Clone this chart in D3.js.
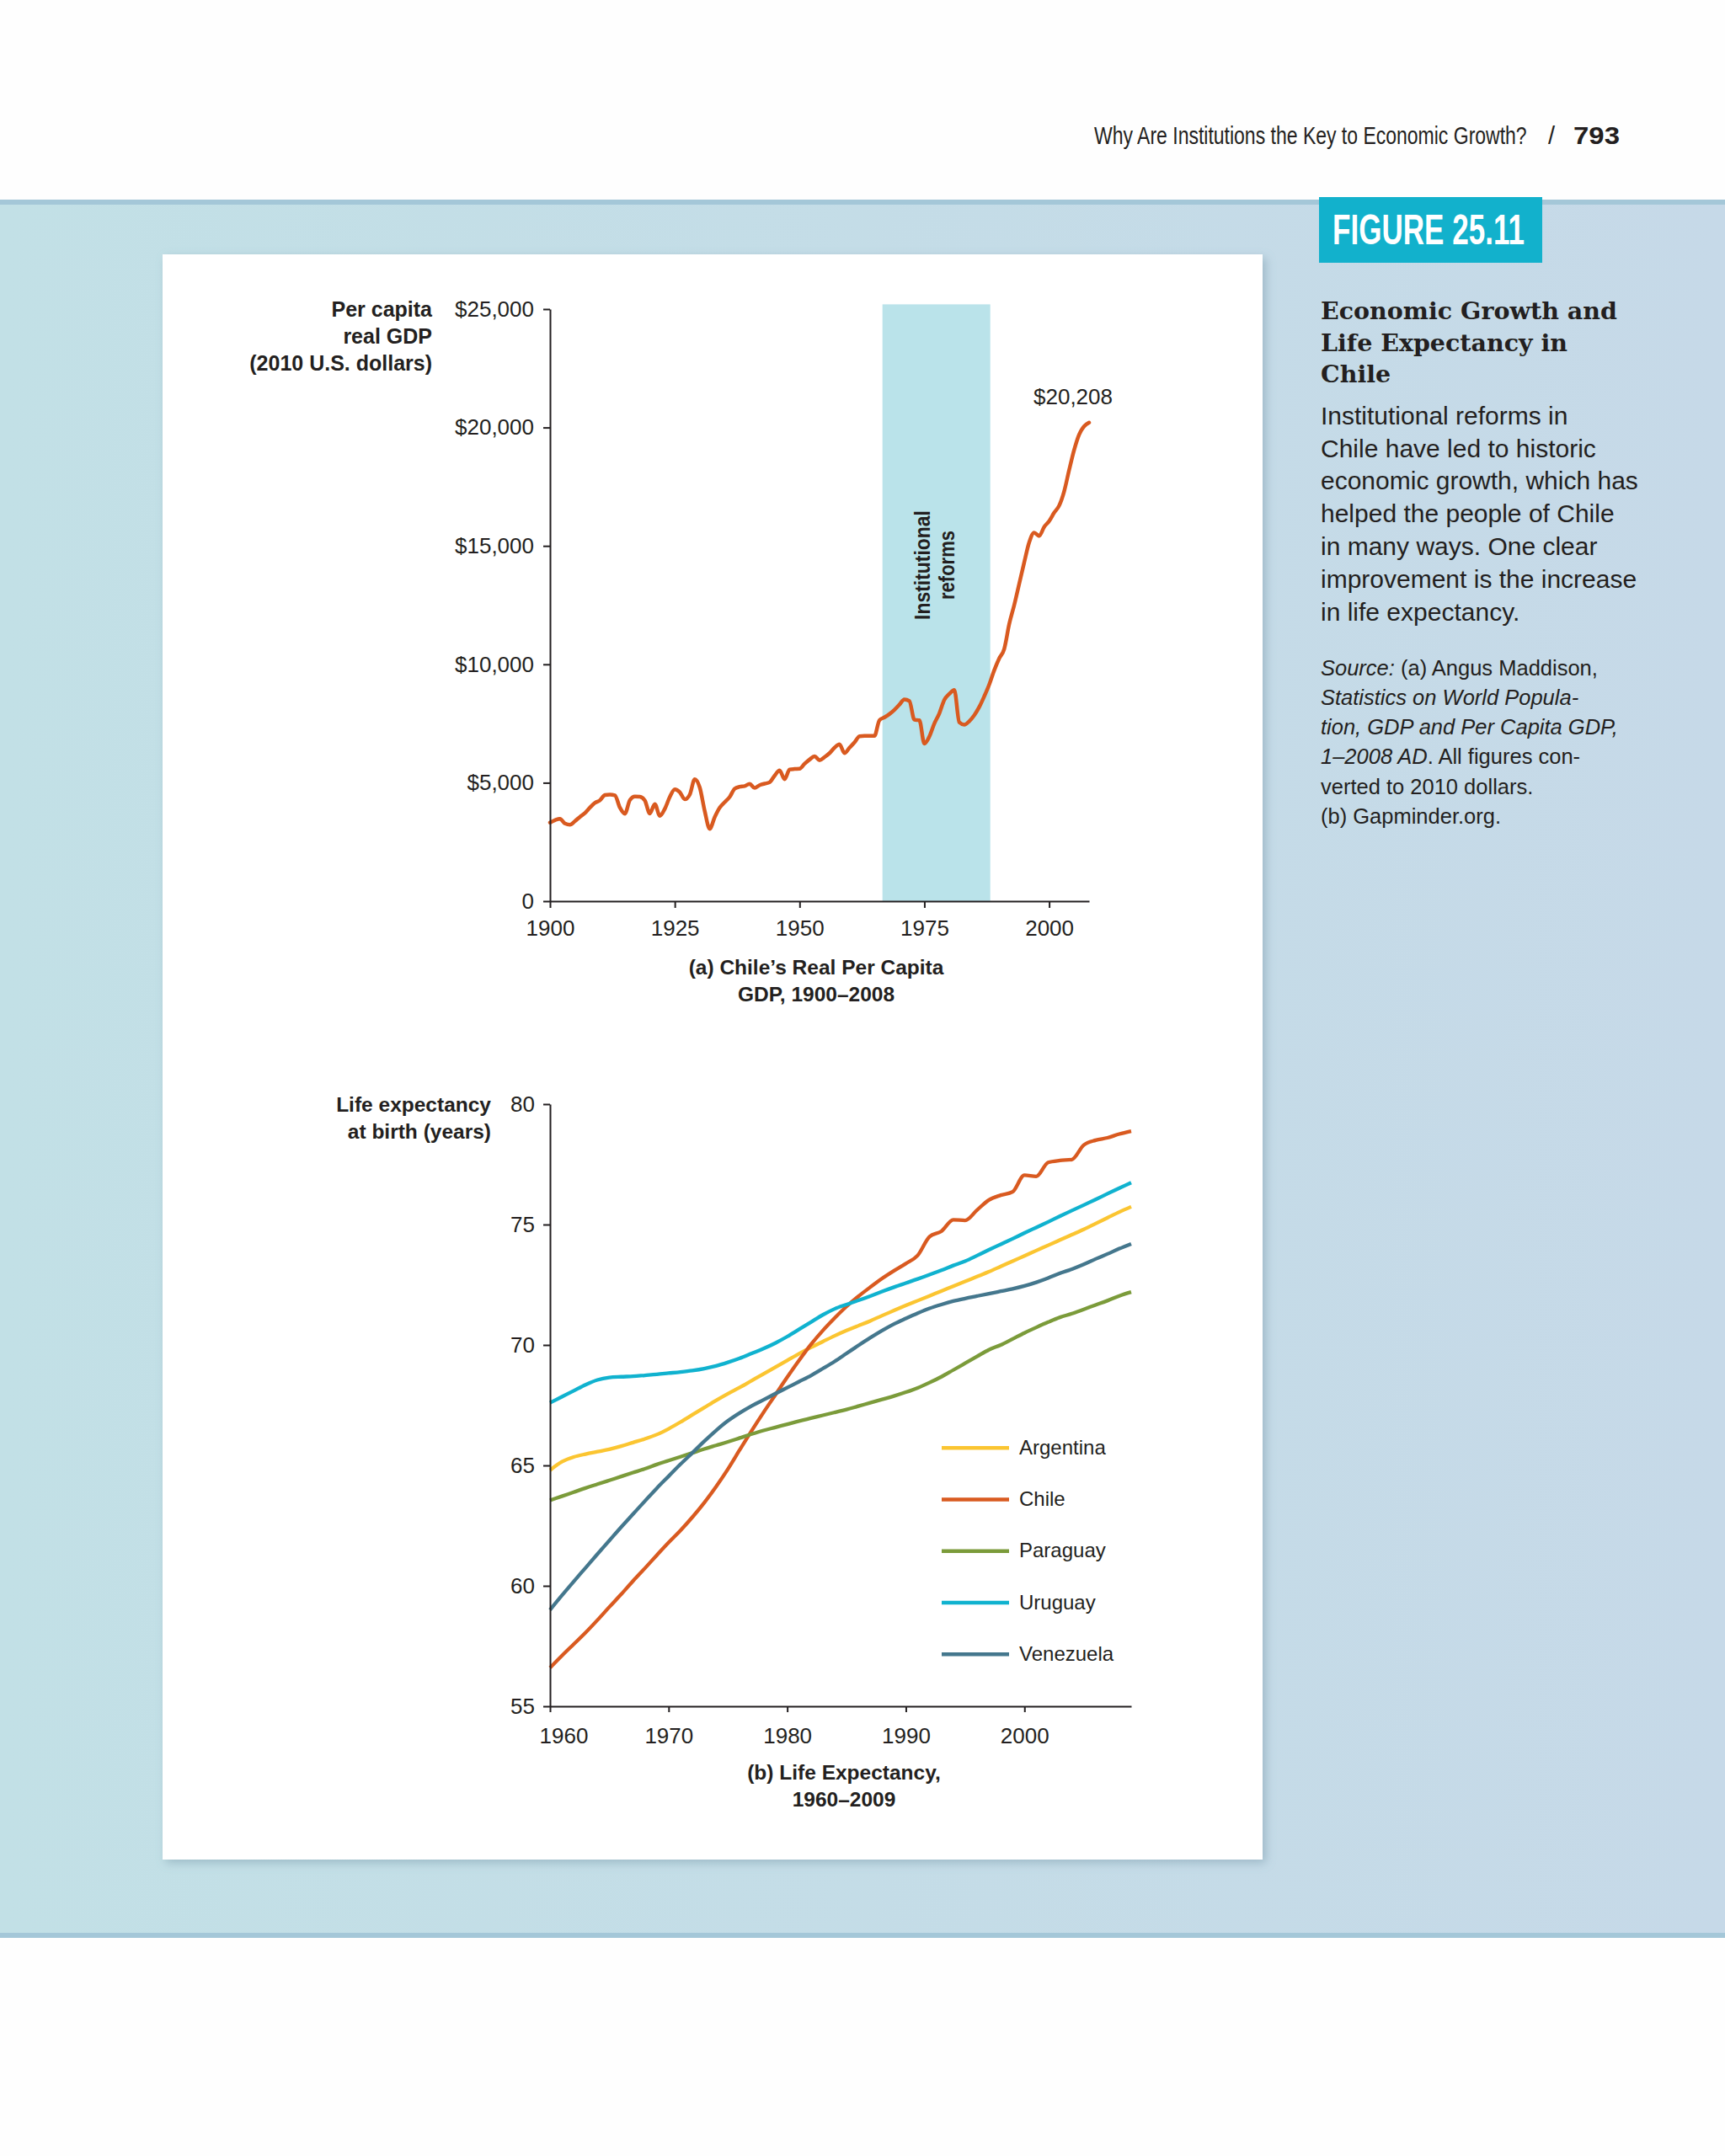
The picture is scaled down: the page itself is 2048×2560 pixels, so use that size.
<!DOCTYPE html>
<html>
<head>
<meta charset="utf-8">
<script src="https://cdn.jsdelivr.net/npm/d3@7"></script>
<style>
    body { margin: 0; background: #ffffff; }
    svg { display: block; }
</style>
</head>
<body>
<svg id="page"></svg>
<script>
const W = 2048, H = 2560;

//(a) Chile real GDP per capita, 2010 dollars, one value per year from 1900
const gdpFirstYear = 1900;
const gdpValues = [
    3320, 3420, 3480, 3280, 3230, 3380, 3560, 3720, 3950, 4150,
    4260, 4480, 4500, 4470, 3950, 3690, 4270, 4420, 4410, 4250,
    3700, 4100, 3600, 3900, 4400, 4720, 4600, 4300, 4500, 5150,
    4800, 3800, 3050, 3550, 3950, 4180, 4400, 4750, 4830, 4860,
    4950, 4780, 4900, 4960, 5020, 5300, 5520, 5150, 5560, 5580,
    5590, 5800, 5980, 6120, 5950, 6080, 6250, 6480, 6620, 6250,
    6480, 6700, 6960, 6980, 6980, 6980, 7640, 7760, 7900, 8080,
    8300, 8520, 8450, 7660, 7640, 6650, 6950, 7500, 7930, 8500,
    8750, 8920, 7550, 7450, 7600, 7850, 8200, 8650, 9150, 9750,
    10250, 10650, 11700, 12500, 13400, 14300, 15150, 15560, 15420, 15800,
    16050, 16400, 16700, 17300, 18200, 19050, 19700, 20050, 20208
];
const gdpTicks = [0, 5000, 10000, 15000, 20000, 25000];
const gdpYearTicks = [1900, 1925, 1950, 1975, 2000];
const reformYears = [1966.6, 1988.2];
const reformTop = 25200;

//(b) life expectancy at birth
const leYears = [
    1960, 1961, 1962, 1963, 1964, 1965, 1966, 1967, 1968, 1969,
    1970, 1971, 1972, 1973, 1974, 1975, 1976, 1977, 1978, 1979,
    1980, 1981, 1982, 1983, 1984, 1985, 1986, 1987, 1988, 1989,
    1990, 1991, 1992, 1993, 1994, 1995, 1996, 1997, 1998, 1999,
    2000, 2001, 2002, 2003, 2004, 2005, 2006, 2007, 2008, 2009
];
const argentina = [
    64.8, 65.15, 65.35, 65.47, 65.57, 65.67, 65.8, 65.95, 66.1, 66.28,
    66.52, 66.8, 67.1, 67.4, 67.7, 67.98, 68.24, 68.52, 68.8, 69.08,
    69.36, 69.64, 69.9, 70.14, 70.38, 70.6, 70.8, 71.0, 71.22, 71.43,
    71.64, 71.84, 72.04, 72.24, 72.44, 72.64, 72.84, 73.04, 73.26, 73.48,
    73.7, 73.92, 74.14, 74.36, 74.58, 74.8, 75.04, 75.28, 75.52, 75.74
];
const chile = [
    56.6, 57.1, 57.58, 58.06, 58.58, 59.12, 59.65, 60.2, 60.73, 61.27,
    61.8, 62.3, 62.85, 63.45, 64.12, 64.85, 65.65, 66.44, 67.2, 67.93,
    68.66, 69.36, 70.02, 70.6, 71.12, 71.6, 72.02, 72.4, 72.76, 73.08,
    73.38, 73.72, 74.5, 74.72, 75.2, 75.17, 75.6, 76.02, 76.22, 76.36,
    77.05, 77.0, 77.58, 77.66, 77.7, 78.3, 78.5, 78.6, 78.76, 78.88
];
const paraguay = [
    63.55, 63.72, 63.89, 64.06, 64.22, 64.38, 64.54, 64.7, 64.86, 65.04,
    65.2, 65.36, 65.52, 65.68, 65.83, 65.98, 66.14, 66.3, 66.45, 66.58,
    66.71, 66.84, 66.96, 67.08, 67.2, 67.32, 67.46, 67.6, 67.74, 67.88,
    68.04, 68.22, 68.44, 68.68, 68.96, 69.24, 69.52, 69.8, 70.0, 70.25,
    70.5, 70.73, 70.95, 71.15, 71.3, 71.48, 71.66, 71.84, 72.04, 72.2
];
const uruguay = [
    67.6, 67.85, 68.1, 68.35, 68.55, 68.65, 68.68, 68.7, 68.74, 68.78,
    68.83, 68.88, 68.94, 69.02, 69.13, 69.28, 69.45, 69.65, 69.85, 70.08,
    70.35, 70.65, 70.95, 71.25, 71.5, 71.68, 71.85, 72.03, 72.22, 72.4,
    72.57, 72.74, 72.92, 73.1, 73.3, 73.48, 73.71, 73.95, 74.18, 74.41,
    74.65, 74.88, 75.11, 75.35, 75.58, 75.81, 76.04, 76.28, 76.51, 76.74
];
const venezuela = [
    59.0, 59.6, 60.18, 60.75, 61.32, 61.88, 62.44, 62.98, 63.52, 64.05,
    64.55, 65.05, 65.52, 66.0, 66.45, 66.85, 67.18, 67.47, 67.72, 67.98,
    68.23, 68.48, 68.73, 69.02, 69.32, 69.65, 69.98, 70.3, 70.6, 70.87,
    71.1, 71.32, 71.52, 71.68, 71.82, 71.93, 72.03, 72.13, 72.23, 72.33,
    72.45, 72.6, 72.78, 72.98, 73.15, 73.35, 73.57, 73.78, 74.0, 74.2
];
const countries = ["Argentina", "Chile", "Paraguay", "Uruguay", "Venezuela"];
const countryValues = [argentina, chile, paraguay, uruguay, venezuela];
const countryColors = ["#fbc531", "#d95a20", "#7b9b3a", "#10b2cf", "#44778d"];
const leTicks = [55, 60, 65, 70, 75, 80];
const leYearTicks = [1960, 1970, 1980, 1990, 2000];

//Side text
const bodyLines = [
    "Institutional reforms in",
    "Chile have led to historic",
    "economic growth, which has",
    "helped the people of Chile",
    "in many ways. One clear",
    "improvement is the increase",
    "in life expectancy."
];
const titleLines = ["Economic Growth and", "Life Expectancy in", "Chile"];
const sourceLines = [
    [["Source:", true], [" (a) Angus Maddison,", false]],
    [["Statistics on World Popula-", true]],
    [["tion, GDP and Per Capita GDP,", true]],
    [["1\u20132008 AD", true], [". All figures con-", false]],
    [["verted to 2010 dollars.", false]],
    [["(b) Gapminder.org.", false]]
];

const sans = "'Liberation Sans', Arial, sans-serif";
const narrow = "'Liberation Sans Narrow', 'Liberation Sans', Arial, sans-serif";
const ink = "#231f20";

const svg = d3.select("#page").attr("width", W).attr("height", H);

//Squeeze a text horizontally so that it spans the given width
function fitText(parent, base, width, str) {
    const t = parent.append("text").text(str);
    const natural = t.node().getComputedTextLength();
    t.attr("transform", base + " scale(" + (width / natural) + ",1)");
    return t;
}

const defs = svg.append("defs");
const grad = defs.append("linearGradient").attr("id", "band");
grad.append("stop").attr("offset", "0%").attr("stop-color", "#c2e0e6");
grad.append("stop").attr("offset", "100%").attr("stop-color", "#c6d9e8");

const shadow = defs.append("filter").attr("id", "shadow")
    .attr("x", "-5%").attr("y", "-5%").attr("width", "115%").attr("height", "115%");
shadow.append("feDropShadow")
    .attr("dx", 4).attr("dy", 4).attr("stdDeviation", 6)
    .attr("flood-color", "#6f8fa0").attr("flood-opacity", 0.45);

//Page background
svg.append("rect").attr("width", W).attr("height", H).attr("fill", "#fefefe");
svg.append("rect").attr("x", 0).attr("y", 237).attr("width", W).attr("height", 2064)
    .attr("fill", "url(#band)");
svg.append("rect").attr("x", 0).attr("y", 237).attr("width", W).attr("height", 6)
    .attr("fill", "#a4c7d8");
svg.append("rect").attr("x", 0).attr("y", 2295).attr("width", W).attr("height", 6)
    .attr("fill", "#a4c7d8");

//Running head
const head = svg.append("g").attr("fill", ink).attr("font-size", 29);
fitText(head.append("g").attr("font-family", narrow), "translate(1299,171)", 514,
    "Why Are Institutions the Key to Economic Growth?");
head.append("text").attr("x", 1838).attr("y", 171)
    .attr("font-family", narrow).text("/");
fitText(head.append("g").attr("font-family", sans).attr("font-weight", "bold"),
    "translate(1868,171)", 55, "793");

//White panel
svg.append("rect").attr("x", 193).attr("y", 302).attr("width", 1306).attr("height", 1906)
    .attr("fill", "#ffffff").attr("filter", "url(#shadow)");

//Figure label and side text
svg.append("rect").attr("x", 1566).attr("y", 234).attr("width", 265).attr("height", 78)
    .attr("fill", "#12b1cc");
fitText(svg.append("g").attr("font-family", narrow).attr("font-size", 50)
        .attr("font-weight", "bold").attr("fill", "#ffffff"),
    "translate(1582,290)", 228, "FIGURE 25.11");

svg.append("g").selectAll("text").data(titleLines).enter().append("text")
    .attr("x", 1568)
    .attr("y", function (d, i) { return 379 + i * 37.5; })
    .attr("font-family", "'DejaVu Serif', serif").attr("font-size", 28.5)
    .attr("font-weight", "bold").attr("fill", ink)
    .text(function (d) { return d; });

svg.append("g").selectAll("text").data(bodyLines).enter().append("text")
    .attr("x", 1568)
    .attr("y", function (d, i) { return 503.6 + i * 38.9; })
    .attr("font-family", sans).attr("font-size", 30).attr("fill", ink)
    .text(function (d) { return d; });

const src = svg.append("g").selectAll("text").data(sourceLines).enter().append("text")
    .attr("x", 1568)
    .attr("y", function (d, i) { return 801.5 + i * 35.3; })
    .attr("font-family", sans).attr("font-size", 25.5).attr("fill", ink);
src.selectAll("tspan").data(function (d) { return d; }).enter().append("tspan")
    .attr("font-style", function (d) { return d[1] ? "italic" : "normal"; })
    .text(function (d) { return d[0]; });

//Axis styling helper
function styleAxis(g, size) {
    g.select(".domain").attr("stroke", ink).attr("stroke-width", 2);
    g.selectAll(".tick line").attr("stroke", ink).attr("stroke-width", 2);
    g.selectAll(".tick text").attr("fill", ink).attr("font-family", sans)
        .attr("font-size", size);
    g.attr("font-family", null).attr("font-size", null);
}

// ---------- (a) GDP chart ----------
const xGdp = d3.scaleLinear().domain([1900, 2008]).range([653, 1293]);
const yGdp = d3.scaleLinear().domain([0, 25000]).range([1070, 367]);

const gdpData = gdpValues.map(function (v, i) {
    return { year: gdpFirstYear + i, value: v };
});

svg.append("rect")
    .attr("x", xGdp(reformYears[0]))
    .attr("y", yGdp(reformTop))
    .attr("width", xGdp(reformYears[1]) - xGdp(reformYears[0]))
    .attr("height", yGdp(0) - yGdp(reformTop))
    .attr("fill", "#bae3ea");

const reformMid = xGdp((reformYears[0] + reformYears[1]) / 2);
const reformText = svg.append("g")
    .attr("font-family", narrow).attr("font-weight", "bold").attr("font-size", 26)
    .attr("fill", ink).attr("text-anchor", "middle");
fitText(reformText, "translate(" + (reformMid - 8) + ",671) rotate(-90)", 130, "Institutional");
fitText(reformText, "translate(" + (reformMid + 21) + ",671) rotate(-90)", 82, "reforms");

const gdpLine = d3.line()
    .x(function (d) { return xGdp(d.year); })
    .y(function (d) { return yGdp(d.value); })
    .curve(d3.curveMonotoneX);

svg.append("path").datum(gdpData)
    .attr("d", gdpLine)
    .attr("fill", "none").attr("stroke", "#d95a20").attr("stroke-width", 4.5)
    .attr("stroke-linejoin", "round").attr("stroke-linecap", "round");

const gdpFmt = d3.format("$,");
svg.append("g").attr("transform", "translate(653,0)")
    .call(d3.axisLeft(yGdp).tickValues(gdpTicks).tickSize(8).tickSizeOuter(0).tickPadding(11)
        .tickFormat(function (d) { return d === 0 ? "0" : gdpFmt(d); }))
    .call(styleAxis, 26);

svg.append("g").attr("transform", "translate(0,1070)")
    .call(d3.axisBottom(xGdp).tickValues(gdpYearTicks).tickSize(8).tickSizeOuter(0)
        .tickPadding(15).tickFormat(d3.format("d")))
    .call(styleAxis, 26);

const lastGdp = gdpData[gdpData.length - 1];
svg.append("text")
    .attr("x", xGdp(lastGdp.year) - 66).attr("y", yGdp(lastGdp.value) - 22)
    .attr("font-family", sans).attr("font-size", 26).attr("fill", ink)
    .text(gdpFmt(lastGdp.value));

svg.append("g").attr("font-family", sans).attr("font-size", 25).attr("font-weight", "bold")
    .attr("fill", ink).attr("text-anchor", "end")
    .selectAll("text").data(["Per capita", "real GDP", "(2010 U.S. dollars)"]).enter()
    .append("text")
    .attr("x", 513).attr("y", function (d, i) { return 376 + i * 32; })
    .text(function (d) { return d; });

svg.append("g").attr("font-family", sans).attr("font-size", 24.5).attr("font-weight", "bold")
    .attr("fill", ink).attr("text-anchor", "middle")
    .selectAll("text").data(["(a) Chile\u2019s Real Per Capita", "GDP, 1900\u20132008"]).enter()
    .append("text")
    .attr("x", 969).attr("y", function (d, i) { return 1157 + i * 31.5; })
    .text(function (d) { return d; });

// ---------- (b) Life expectancy chart ----------
const xLe = d3.scaleLinear().domain([1960, 2009]).range([653, 1343]);
const yLe = d3.scaleLinear().domain([55, 80]).range([2026, 1311]);

const leLine = d3.line()
    .x(function (d) { return xLe(d[0]); })
    .y(function (d) { return yLe(d[1]); })
    .curve(d3.curveMonotoneX);

svg.append("g").selectAll("path").data(countries).enter().append("path")
    .attr("d", function (d, i) {
        return leLine(leYears.map(function (y, j) { return [y, countryValues[i][j]]; }));
    })
    .attr("fill", "none")
    .attr("stroke", function (d, i) { return countryColors[i]; })
    .attr("stroke-width", 4.3)
    .attr("stroke-linejoin", "round");

svg.append("g").attr("transform", "translate(653,0)")
    .call(d3.axisLeft(yLe).tickValues(leTicks).tickSize(8).tickSizeOuter(0).tickPadding(10))
    .call(styleAxis, 26);

const leX = svg.append("g").attr("transform", "translate(0,2026)")
    .call(d3.axisBottom(xLe).tickValues(leYearTicks).tickSize(7).tickSizeOuter(0)
        .tickPadding(19).tickFormat(d3.format("d")))
    .call(styleAxis, 26);
leX.selectAll(".tick text").filter(function (d) { return d === 1960; }).attr("dx", 16);

//Legend
const legend = svg.append("g").selectAll("g").data(countries).enter().append("g")
    .attr("transform", function (d, i) { return "translate(1118," + (1719.3 + i * 61.25) + ")"; });
legend.append("line")
    .attr("x1", 0).attr("x2", 80)
    .attr("stroke", function (d, i) { return countryColors[i]; })
    .attr("stroke-width", 4.5);
legend.append("text")
    .attr("x", 92).attr("dy", "0.32em")
    .attr("font-family", sans).attr("font-size", 24).attr("fill", ink)
    .text(function (d) { return d; });

svg.append("g").attr("font-family", sans).attr("font-size", 24.5).attr("font-weight", "bold")
    .attr("fill", ink).attr("text-anchor", "end")
    .selectAll("text").data(["Life expectancy", "at birth (years)"]).enter()
    .append("text")
    .attr("x", 583).attr("y", function (d, i) { return 1320 + i * 32; })
    .text(function (d) { return d; });

svg.append("g").attr("font-family", sans).attr("font-size", 24.5).attr("font-weight", "bold")
    .attr("fill", ink).attr("text-anchor", "middle")
    .selectAll("text").data(["(b) Life Expectancy,", "1960\u20132009"]).enter()
    .append("text")
    .attr("x", 1002).attr("y", function (d, i) { return 2113 + i * 32; })
    .text(function (d) { return d; });
</script>
</body>
</html>
